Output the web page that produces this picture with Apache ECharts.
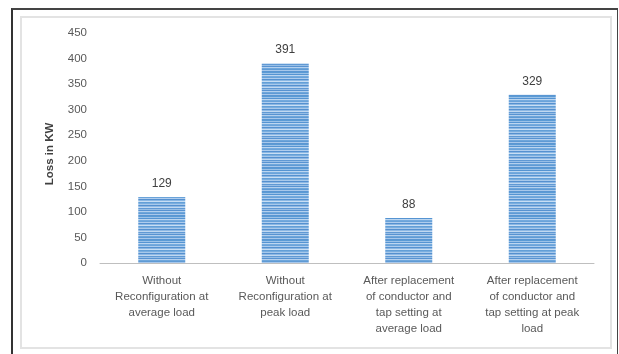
<!DOCTYPE html>
<html><head><meta charset="utf-8">
<script src="https://cdn.jsdelivr.net/npm/echarts@6/dist/echarts.min.js"></script>
<style>
html,body{margin:0;padding:0;background:#fff;}
#frame{position:absolute;left:11px;top:8px;width:607px;height:346px;border-left:2px solid #333;border-top:2px solid #444;border-right:1px solid #444;box-sizing:border-box;}
#inner{position:absolute;left:20px;top:16px;width:592px;height:333px;border:2px solid #e3e3e3;box-sizing:border-box;}
#c{position:absolute;left:0;top:0;width:619px;height:354px;}
</style></head>
<body>
<div id="frame"></div><div id="inner"></div>
<div id="c"></div>
<script>
var categories = [
  "Without\nReconfiguration at\naverage load",
  "Without\nReconfiguration at\npeak load",
  "After replacement\nof conductor and\ntap setting at\naverage load",
  "After replacement\nof conductor and\ntap setting at peak\nload"
];
var lossValues = [129, 391, 88, 329];
var yTicks = [0, 50, 100, 150, 200, 250, 300, 350, 400, 450];

var pc = document.createElement('canvas');
pc.width = 4; pc.height = 24;
var g = pc.getContext('2d');
var stripes = ['#5b9bd5','#9cc2e8','#5594d2','#bcd6f0','#74aade','#6aa3d9','#afcdee','#5591d0','#8ab7e3','#c8def4','#639fd7','#7aaedf','#a8c9eb','#5590cf','#8db8e4','#c0d8f1','#6099d4','#97bee6','#5893d1','#b4d0ee','#6ea6db','#5f9ad4','#a8c8eb','#5a96d2'];
for (var i = 0; i < 24; i++) { g.fillStyle = stripes[i]; g.fillRect(0, i, 4, 1); }

var chart = echarts.init(document.getElementById('c'));
chart.setOption({
  animation: false,
  grid: {left: 100, right: 25, top: 33, bottom: 91},
  xAxis: {
    type: 'category', data: categories,
    axisLine: {lineStyle: {color: '#bfbfbf', width: 1}},
    axisTick: {show: false},
    axisLabel: {color: '#595959', fontFamily: 'Liberation Sans', fontSize: 11.5, lineHeight: 16, margin: 10, interval: 0}
  },
  yAxis: {
    type: 'value', min: 0, max: 450, interval: 50,
    name: 'Loss in KW', nameLocation: 'middle', nameGap: 44,
    nameTextStyle: {color: '#404040', fontWeight: 'bold', fontSize: 11.5, fontFamily: 'Liberation Sans', padding: [0, 12, 0, 0]},
    splitLine: {show: false},
    axisLine: {show: false}, axisTick: {show: false},
    axisLabel: {color: '#595959', fontFamily: 'Liberation Sans', fontSize: 11.5, margin: 13}
  },
  series: [{
    type: 'bar', data: lossValues, barWidth: 47,
    itemStyle: {color: {image: pc, repeat: 'repeat'}},
    label: {show: true, position: 'top', distance: 7, color: '#404040', fontFamily: 'Liberation Sans', fontSize: 12}
  }]
});
</script>
</body></html>
